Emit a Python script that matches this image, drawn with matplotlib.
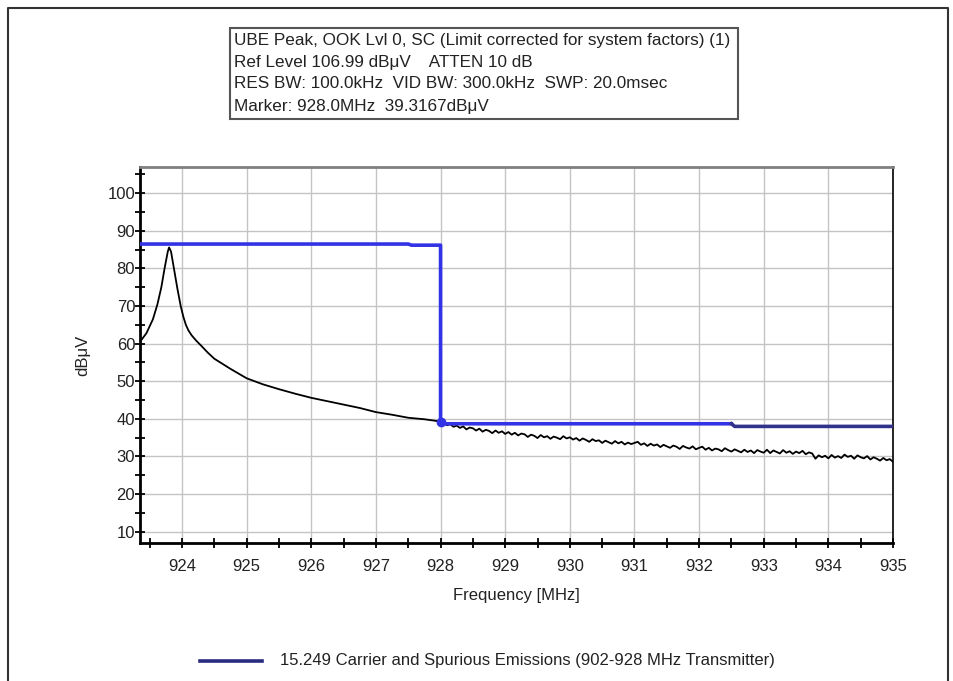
import numpy as np
import matplotlib.pyplot as plt
from matplotlib.lines import Line2D
from matplotlib.patches import Rectangle

plt.rcParams['font.family'] = ['Liberation Sans', 'DejaVu Sans']

# measured trace (black), peak region read point by point
trace_f1 = [923.35, 923.45, 923.55, 923.62, 923.68, 923.73, 923.78, 923.80,
            923.83, 923.88, 923.93, 923.98, 924.02, 924.06, 924.10, 924.15,
            924.22, 924.30, 924.40, 924.50, 924.75, 925.00, 925.25, 925.50,
            925.75, 926.00, 926.25, 926.50, 926.75, 927.00, 927.25, 927.50,
            927.75, 928.00]
trace_v1 = [60.5, 62.8, 66.5, 70.5, 75.0, 80.0, 84.5, 85.6,
            84.5, 79.5, 74.5, 70.0, 67.2, 65.0, 63.5, 62.2,
            60.8, 59.4, 57.6, 56.0, 53.3, 50.8, 49.2, 47.9,
            46.7, 45.6, 44.7, 43.8, 42.9, 41.8, 41.1, 40.3,
            39.9, 39.3]
# noisy part above 928 MHz, every 0.05 MHz
trace_f2 = np.round(np.arange(928.05, 935.001, 0.05), 2)
trace_v2 = [38.9, 38.3, 38.6, 37.9, 38.2, 37.6, 38.0, 37.2, 37.7, 37.5,
            36.9, 37.4, 36.6, 37.1, 36.8, 36.2, 36.9, 36.3, 36.7, 36.0,
            36.5, 35.8, 36.3, 35.6, 36.1, 35.9, 35.2, 35.8, 35.5, 34.9,
            35.7, 35.1, 35.4, 34.7, 35.3, 35.0, 34.6, 35.4, 34.8, 35.1,
            34.5, 34.9, 34.2, 34.8, 34.4, 33.9, 34.6, 34.1, 34.3, 33.6,
            34.2, 33.8, 33.4, 34.1, 33.5, 33.9, 33.2, 33.7, 33.3, 33.6,
            33.9, 33.1, 33.5, 32.8, 33.4, 32.9, 33.2, 32.5, 33.1, 32.7,
            32.3, 32.9, 32.6, 32.0, 32.8, 32.4, 32.1, 32.7, 31.9, 32.3,
            32.6, 31.8, 32.3, 31.6, 32.1, 31.9, 31.4, 32.2, 31.7, 31.3,
            31.9, 31.5, 31.1, 31.8, 31.2, 31.6, 30.9, 31.7, 31.3, 31.0,
            31.8, 30.9, 31.6, 31.2, 30.8, 31.7, 31.0, 31.4, 30.7, 31.3,
            30.9, 31.5, 30.6, 31.1, 30.8, 29.4, 30.3, 29.8, 30.2, 29.5,
            30.4, 29.7, 30.1, 29.6, 30.5, 29.9, 30.2, 29.4, 30.3, 29.8,
            29.5, 30.1, 29.2, 29.8, 29.4, 28.9, 29.6, 29.0, 29.3, 28.6]

# limit line
limit_f = [923.35, 927.5, 927.55, 928.0, 928.0, 932.5]
limit_v = [86.5, 86.5, 86.2, 86.2, 38.7, 38.7]
limit_f_end = [932.5, 932.55, 935.0]
limit_v_end = [38.7, 38.0, 38.0]

marker_f, marker_v = 928.0, 39.3

info_lines = [
    "UBE Peak, OOK Lvl 0, SC (Limit corrected for system factors) (1)",
    "Ref Level 106.99 dB\u03bcV    ATTEN 10 dB",
    "RES BW: 100.0kHz  VID BW: 300.0kHz  SWP: 20.0msec",
    "Marker: 928.0MHz  39.3167dB\u03bcV",
]
legend_label = "15.249 Carrier and Spurious Emissions (902-928 MHz Transmitter)"

fig = plt.figure(figsize=(9.54, 6.81), dpi=100)
W, H = 954, 681
ax = fig.add_axes([140 / W, 1 - 543 / H, (893 - 140) / W, (543 - 167) / H])

ax.plot(list(trace_f1) + list(trace_f2), trace_v1 + trace_v2,
        color='black', lw=1.3, zorder=3)
ax.plot(limit_f, limit_v, color='#3232e6', lw=2.6, zorder=4)
ax.plot(limit_f_end, limit_v_end, color='#32328c', lw=2.6, zorder=4)
ax.plot([marker_f], [marker_v], 'o', color='#3232e6', ms=6, zorder=5)

ax.set_xlim(923.35, 935.0)
ax.set_ylim(6.99, 106.99)
ax.set_xticks(np.arange(924, 936, 1))
ax.set_xticks(np.arange(923.5, 935.01, 0.5), minor=True)
ax.set_yticks(np.arange(10, 101, 10))
ax.set_yticks(np.arange(10, 106, 5), minor=True)
ax.grid(True, which='major', color='#c4c4c4', lw=1.0)
ax.set_axisbelow(True)
ax.tick_params(which='both', direction='inout', length=7, width=1.3,
               labelsize=12, colors='black', labelcolor='#222222')
ax.tick_params(axis='x', pad=8)
ax.tick_params(axis='y', pad=0)
for s in ['left', 'bottom']:
    ax.spines[s].set_linewidth(2)
ax.spines['top'].set_color('#808080')
ax.spines['top'].set_linewidth(2)
ax.spines['right'].set_linewidth(1.2)
ax.set_xlabel("Frequency [MHz]", fontsize=12, labelpad=10, color='#222222')
ax.set_ylabel("dB\u03bcV", fontsize=12, labelpad=12, color='#222222')

# info box
fig.patches.append(Rectangle((230 / W, 1 - 119 / H), (738 - 230) / W, (119 - 28) / H,
                             transform=fig.transFigure, fill=False,
                             edgecolor='#555555', lw=1.5))
for i, t in enumerate(info_lines):
    fig.text(234 / W, 1 - (40 + i * 22) / H, t, fontsize=12.3,
             va='center', ha='left', color='#222222')

# legend
fig.add_artist(Line2D([200 / W, 262 / W], [1 - 661 / H, 1 - 661 / H],
                      transform=fig.transFigure, color='#2a2a80', lw=2.6))
fig.text(280 / W, 1 - 661 / H, legend_label, fontsize=12, va='center',
         ha='left', color='#222222')

# outer frame
fig.add_artist(Line2D([8 / W, 8 / W, 948 / W, 948 / W], [0, 1 - 8 / H, 1 - 8 / H, 0],
                      transform=fig.transFigure, color='#333333', lw=1.5))

fig.savefig("out.png", dpi=100)
